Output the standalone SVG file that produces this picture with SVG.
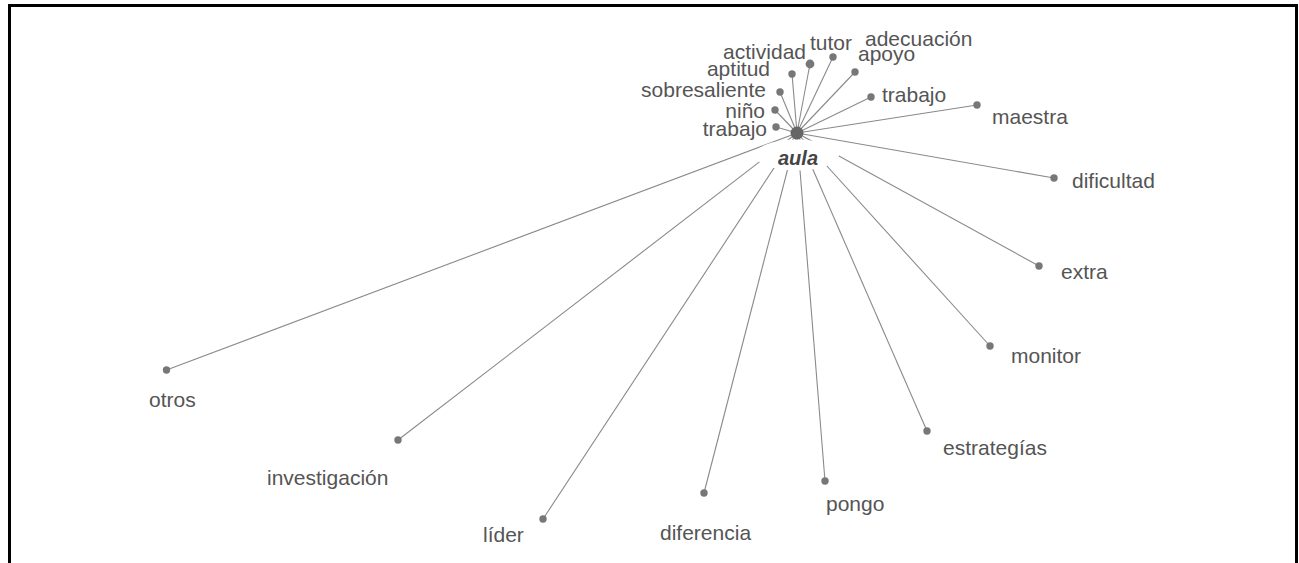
<svg xmlns="http://www.w3.org/2000/svg" width="1299" height="563" viewBox="0 0 1299 563">
<style>
.lbl{font-family:"Liberation Sans",Arial,sans-serif;font-size:21px;fill:#555}
.e{text-anchor:end}
.dot{fill:#777}
.edge{stroke:#8a8a8a;stroke-width:1.1;fill:none}
</style>
<rect x="0" y="0" width="1299" height="563" fill="#fff"/>
<path d="M9.5,570 V5.5 H1296.5 V570" fill="none" stroke="#000" stroke-width="3"/>
<g id="connectors">
<line class="edge" x1="797" y1="133" x2="776" y2="127"/>
<line class="edge" x1="797" y1="133" x2="775" y2="110"/>
<line class="edge" x1="797" y1="133" x2="780" y2="92"/>
<line class="edge" x1="797" y1="133" x2="792" y2="74"/>
<line class="edge" x1="797" y1="133" x2="810" y2="64"/>
<line class="edge" x1="797" y1="133" x2="833" y2="57"/>
<line class="edge" x1="797" y1="133" x2="855" y2="72"/>
<line class="edge" x1="797" y1="133" x2="871" y2="97"/>
<line class="edge" x1="797" y1="133" x2="977" y2="105"/>
<line class="edge" x1="797" y1="133" x2="1054" y2="178"/>
<line class="edge" x1="797" y1="133" x2="1039" y2="266"/>
<line class="edge" x1="797" y1="133" x2="990" y2="346"/>
<line class="edge" x1="797" y1="133" x2="927" y2="431"/>
<line class="edge" x1="797" y1="133" x2="825" y2="481"/>
<line class="edge" x1="797" y1="133" x2="704" y2="493"/>
<line class="edge" x1="797" y1="133" x2="543" y2="519"/>
<line class="edge" x1="797" y1="133" x2="398" y2="440"/>
<line class="edge" x1="797" y1="133" x2="166.5" y2="370"/>
</g>
<g id="aula">
<ellipse cx="797" cy="155" rx="42" ry="15.5" fill="#fff"/>
<circle cx="797" cy="133" r="6.5" fill="#666"/>
<text x="798" y="165" text-anchor="middle" style="font-family:'Liberation Sans',Arial,sans-serif;font-size:20px;font-weight:bold;font-style:italic;fill:#444">aula</text>
</g>
<g id="n-trabajo1"><circle class="dot" cx="776" cy="127" r="3.7"/><text class="lbl e" x="767" y="136">trabajo</text></g>
<g id="n-nino"><circle class="dot" cx="775" cy="110" r="3.7"/><text class="lbl e" x="765" y="118">niño</text></g>
<g id="n-sobresaliente"><circle class="dot" cx="780" cy="92" r="3.7"/><text class="lbl e" x="766" y="97">sobresaliente</text></g>
<g id="n-aptitud"><circle class="dot" cx="792" cy="74" r="3.7"/><text class="lbl e" x="770" y="76">aptitud</text></g>
<g id="n-actividad"><circle class="dot" cx="810" cy="64" r="4.4"/><text class="lbl e" x="806" y="59">actividad</text></g>
<g id="n-tutor"><circle class="dot" cx="833" cy="57" r="3.7"/><text class="lbl" x="810" y="50">tutor</text></g>
<g id="n-adecuacion"><text class="lbl" x="865" y="46">adecuación</text></g>
<g id="n-apoyo"><circle class="dot" cx="855" cy="72" r="3.7"/><text class="lbl" x="858" y="61">apoyo</text></g>
<g id="n-trabajo2"><circle class="dot" cx="871" cy="97" r="3.7"/><text class="lbl" x="882" y="102">trabajo</text></g>
<g id="n-maestra"><circle class="dot" cx="977" cy="105" r="3.7"/><text class="lbl" x="992" y="124">maestra</text></g>
<g id="n-dificultad"><circle class="dot" cx="1054" cy="178" r="3.7"/><text class="lbl" x="1072" y="188">dificultad</text></g>
<g id="n-extra"><circle class="dot" cx="1039" cy="266" r="3.7"/><text class="lbl" x="1061" y="279">extra</text></g>
<g id="n-monitor"><circle class="dot" cx="990" cy="346" r="3.7"/><text class="lbl" x="1011" y="363">monitor</text></g>
<g id="n-estrategias"><circle class="dot" cx="927" cy="431" r="3.7"/><text class="lbl" x="943" y="455">estrategías</text></g>
<g id="n-pongo"><circle class="dot" cx="825" cy="481" r="3.7"/><text class="lbl" x="826" y="511">pongo</text></g>
<g id="n-diferencia"><circle class="dot" cx="704" cy="493" r="3.7"/><text class="lbl" x="660" y="540">diferencia</text></g>
<g id="n-lider"><circle class="dot" cx="543" cy="519" r="3.7"/><text class="lbl" x="483" y="542">líder</text></g>
<g id="n-investigacion"><circle class="dot" cx="398" cy="440" r="3.7"/><text class="lbl" x="267" y="485">investigación</text></g>
<g id="n-otros"><circle class="dot" cx="166.5" cy="370" r="3.7"/><text class="lbl" x="149" y="407">otros</text></g>
</svg>
